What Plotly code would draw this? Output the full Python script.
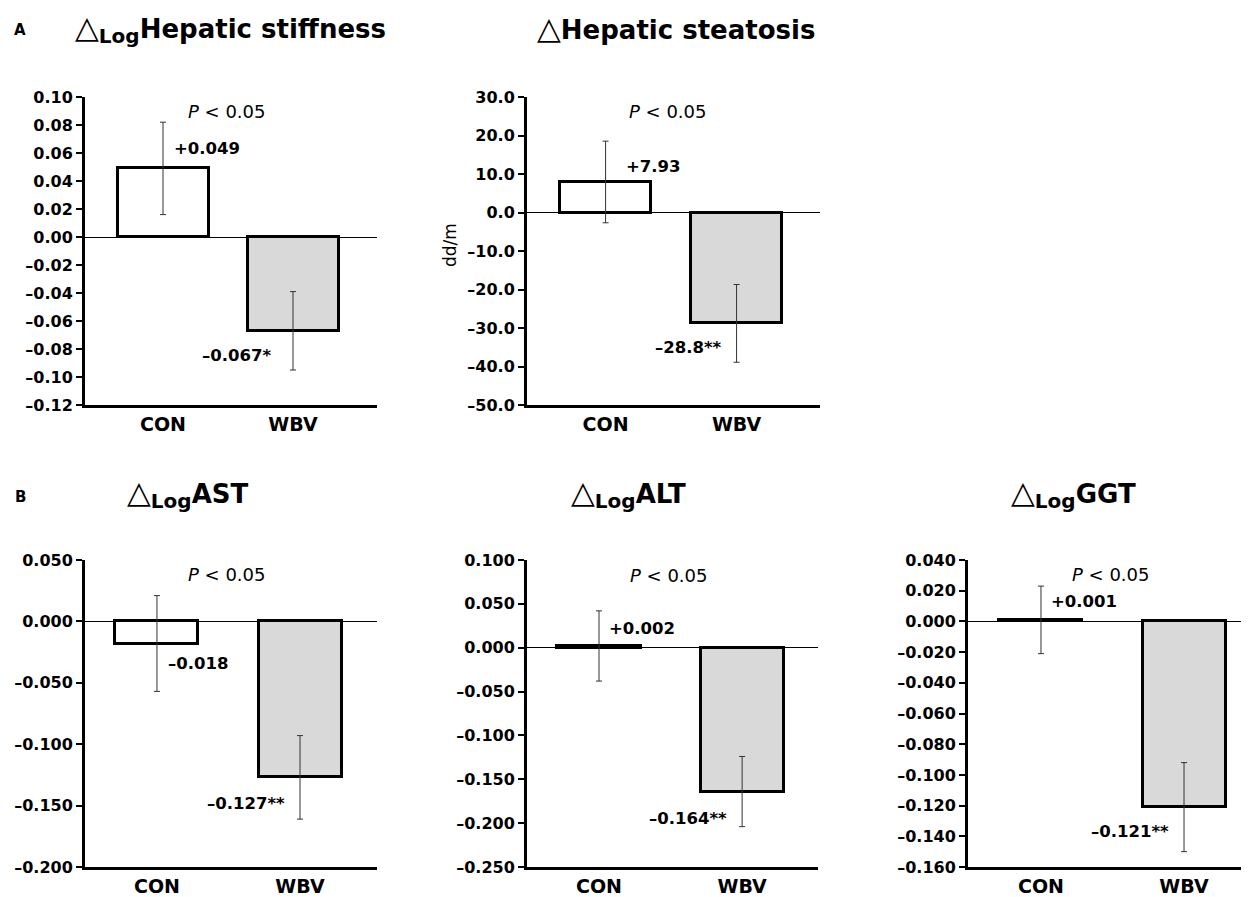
import plotly.graph_objects as go

W, H = 1249, 897
OFF = 8  # page body margin: the figure is drawn 8px from the top-left of the window

groups = ["CON", "WBV"]

stiff_vals = [0.049, -0.067]
stiff_err = [0.033, 0.028]
steat_vals = [7.93, -28.8]
steat_err = [10.6, 10.1]
ast_vals = [-0.018, -0.127]
ast_err = [0.039, 0.034]
alt_vals = [0.002, -0.164]
alt_err = [0.040, 0.040]
ggt_vals = [0.001, -0.121]
ggt_err = [0.022, 0.029]

stiff_labels = ["+0.049", "–0.067*"]
steat_labels = ["+7.93", "–28.8**"]
ast_labels = ["–0.018", "–0.127**"]
alt_labels = ["+0.002", "–0.164**"]
ggt_labels = ["+0.001", "–0.121**"]

stiff_ticks = [0.10, 0.08, 0.06, 0.04, 0.02, 0.00, -0.02, -0.04, -0.06, -0.08, -0.10, -0.12]
steat_ticks = [30, 20, 10, 0, -10, -20, -30, -40, -50]
ast_ticks = [0.05, 0.0, -0.05, -0.10, -0.15, -0.20]
alt_ticks = [0.10, 0.05, 0.0, -0.05, -0.10, -0.15, -0.20, -0.25]
ggt_ticks = [0.04, 0.02, 0.0, -0.02, -0.04, -0.06, -0.08, -0.10, -0.12, -0.14, -0.16]

FONT = "DejaVu Sans, Arial, sans-serif"
fills = ["white", "#d9d9d9"]


def fmt(v, nd):
    s = f"{abs(v):.{nd}f}"
    return ("–" + s) if v < -1e-12 else s


def px(x, y):
    return (x - OFF) / W, 1 - (y - OFF) / H


def dx(x):
    return (x - OFF) / W


def dy(y):
    return 1 - (y - OFF) / H


TRI = '<span style="font-size:31px">△</span>'
LOG = '<sub><span style="font-size:20px"><b>Log</b></span></sub>'

panels = [
    dict(vals=stiff_vals, err=stiff_err, labels=stiff_labels, ticks=stiff_ticks, nd=2,
         dom=(85, 377, 97, 405), xr=[-0.6, 1.646], yr=[-0.12, 0.10], bw=0.70,
         title=TRI + LOG + "<b>Hepatic stiffness</b>", tpos=(230, 28),
         ppos=(226, 111), lpos=[(207, 148), (236, 355)]),
    dict(vals=steat_vals, err=steat_err, labels=steat_labels, ticks=steat_ticks, nd=1,
         dom=(527, 820, 97, 405), xr=[-0.6, 1.637], yr=[-50, 30], bw=0.70,
         title=TRI + "<b>Hepatic steatosis</b>", tpos=(676, 28),
         ppos=(667, 112), lpos=[(653, 166), (689, 347)]),
    dict(vals=ast_vals, err=ast_err, labels=ast_labels, ticks=ast_ticks, nd=3,
         dom=(85, 377, 560, 867), xr=[-0.503, 1.538], yr=[-0.20, 0.05], bw=0.58,
         title=TRI + LOG + "<b>AST</b>", tpos=(188, 493),
         ppos=(226, 574), lpos=[(198, 663), (246, 803)]),
    dict(vals=alt_vals, err=alt_err, labels=alt_labels, ticks=alt_ticks, nd=3,
         dom=(527, 818, 560, 867), xr=[-0.503, 1.53], yr=[-0.25, 0.10], bw=0.58,
         title=TRI + LOG + "<b>ALT</b>", tpos=(628, 493),
         ppos=(668, 575), lpos=[(642, 628), (688, 818)]),
    dict(vals=ggt_vals, err=ggt_err, labels=ggt_labels, ticks=ggt_ticks, nd=3,
         dom=(968, 1257, 560, 867), xr=[-0.51, 1.51], yr=[-0.16, 0.04], bw=0.58,
         title=TRI + LOG + "<b>GGT</b>", tpos=(1073, 493),
         ppos=(1110, 574), lpos=[(1084, 601), (1130, 831)]),
]

fig = go.Figure()
annotations = []

for i, p in enumerate(panels):
    n = "" if i == 0 else str(i + 1)
    xa, ya = "x" + n, "y" + n
    fig.add_trace(go.Bar(
        x=[0, 1], y=p["vals"], width=p["bw"],
        marker=dict(color=fills, line=dict(color="black", width=3)),
        error_y=dict(type="data", array=p["err"], visible=True,
                     color="#333333", thickness=1, width=3),
        xaxis=xa, yaxis=ya, showlegend=False, hoverinfo="skip",
    ))
    x0, x1, yt, yb = p["dom"]
    lay_x = dict(domain=[dx(x0), min(1.0, dx(x1))], range=p["xr"], anchor=ya,
                 tickmode="array", tickvals=[0, 1], ticktext=groups,
                 showline=True, linewidth=3, linecolor="black", ticks="",
                 showgrid=False, zeroline=False, automargin=False,
                 tickfont=dict(family=FONT, size=19, color="black", weight="bold"))
    lay_y = dict(domain=[dy(yb), dy(yt)], range=p["yr"], anchor=xa,
                 tickmode="array", tickvals=p["ticks"],
                 ticktext=[fmt(t, p["nd"]) for t in p["ticks"]],
                 showline=True, linewidth=3, linecolor="black",
                 ticks="outside", ticklen=6, tickwidth=2, tickcolor="black",
                 showgrid=False, zeroline=True, zerolinecolor="black", zerolinewidth=1,
                 automargin=False,
                 tickfont=dict(family=FONT, size=16, color="black", weight="bold"))
    fig.update_layout(**{"xaxis" + n: lay_x, "yaxis" + n: lay_y})

    tx, ty = px(*p["tpos"])
    annotations.append(dict(text=p["title"], x=tx, y=ty, xref="paper", yref="paper",
                            showarrow=False, xanchor="center", yanchor="middle",
                            font=dict(family=FONT, size=26, color="black")))
    ptx, pty = px(*p["ppos"])
    annotations.append(dict(text="<i>P</i> < 0.05", x=ptx, y=pty, xref="paper", yref="paper",
                            showarrow=False, xanchor="center", yanchor="middle",
                            font=dict(family=FONT, size=18, color="black")))
    for lab, pos in zip(p["labels"], p["lpos"]):
        lx, ly = px(*pos)
        annotations.append(dict(text="<b>" + lab + "</b>", x=lx, y=ly, xref="paper", yref="paper",
                                showarrow=False, xanchor="center", yanchor="middle",
                                font=dict(family=FONT, size=16.5, color="black")))

ax_, ay_ = px(450, 245)
annotations.append(dict(text="dd/m", x=ax_, y=ay_, xref="paper", yref="paper", textangle=-90,
                        showarrow=False, xanchor="center", yanchor="middle",
                        font=dict(family=FONT, size=17, color="black")))
for letter, pos in [("A", (20, 30)), ("B", (20, 497))]:
    lx, ly = px(*pos)
    annotations.append(dict(text="<b>" + letter + "</b>", x=lx, y=ly, xref="paper", yref="paper",
                            showarrow=False, xanchor="center", yanchor="middle",
                            font=dict(family=FONT, size=15, color="black")))

fig.update_layout(width=W, height=H, margin=dict(l=0, r=0, t=0, b=0, autoexpand=False),
                  paper_bgcolor="white", plot_bgcolor="white",
                  annotations=annotations, bargap=0)

fig.write_html("out.html")
